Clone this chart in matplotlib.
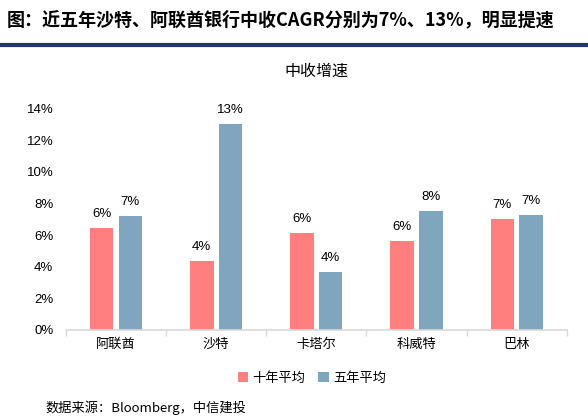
import matplotlib
matplotlib.use("Agg")
import matplotlib.pyplot as plt
import numpy as np
from matplotlib.ticker import FuncFormatter

plt.rcParams['font.family'] = ['Noto Sans CJK SC', 'DejaVu Sans']

categories = ['阿联酋', '沙特', '卡塔尔', '科威特', '巴林']
ten_year = [6.47, 4.37, 6.16, 5.63, 7.02]    # 十年平均 (%)
five_year = [7.20, 13.06, 3.67, 7.53, 7.28]  # 五年平均 (%)
series_names = ['十年平均', '五年平均']

red = '#FF7F7F'
blue = '#7FA5BF'

fig = plt.figure(figsize=(5.88, 4.17), dpi=100)
ax = fig.add_axes([0.112, 0.209, 0.852, 0.53])

x = np.arange(len(categories))
w = 0.235
off = 0.026
b1 = ax.bar(x - w / 2 - off, ten_year, w, color=red, label=series_names[0])
b2 = ax.bar(x + w / 2 + off, five_year, w, color=blue, label=series_names[1])

for bars in (b1, b2):
    for r in bars:
        v = r.get_height()
        ax.text(r.get_x() + r.get_width() / 2, v + 0.5, '%d%%' % round(v),
                ha='center', va='bottom', fontsize=9.5, family=['Liberation Sans', 'DejaVu Sans'])

ax.set_xlim(-0.5, len(categories) - 0.5)
ax.set_ylim(0, 14)
ax.set_yticks(np.arange(0, 15, 2))
ax.yaxis.set_major_formatter(FuncFormatter(lambda v, p: '%d%%' % v))
for t in ax.get_yticklabels():
    t.set_family(['Liberation Sans', 'DejaVu Sans'])
ax.tick_params(axis='y', length=0, labelsize=9.5, pad=9)
ax.set_xticks(x)
ax.set_xticklabels(categories, fontsize=9.5)
ax.tick_params(axis='x', length=0, pad=6)
ax.set_xticks(np.arange(-0.5, len(categories), 1), minor=True)
ax.tick_params(axis='x', which='minor', length=4, color='#D9D9D9', width=1)
for s in ['top', 'right', 'left']:
    ax.spines[s].set_visible(False)
ax.spines['bottom'].set_color('#D9D9D9')
ax.spines['bottom'].set_linewidth(1.2)

ax.set_title('中收增速', fontsize=11.5, pad=24)

fig.legend(handles=[b1, b2], loc='center', bbox_to_anchor=(0.53, 0.093), ncol=2,
           frameon=False, fontsize=9.5, handlelength=0.8, handleheight=0.8,
           handletextpad=0.3, columnspacing=1.0)

fig.text(0.012, 0.952, '图：近五年沙特、阿联酋银行中收CAGR分别为7%、13%，明显提速',
         fontsize=13, fontweight='bold', va='center', ha='left')
fig.add_artist(plt.Line2D([0, 1], [0.893, 0.893], color='#1F3864', linewidth=3,
                          transform=fig.transFigure))
fig.text(0.077, 0.022, '数据来源：Bloomberg，中信建投', fontsize=9.5, va='center', ha='left')

fig.savefig('out.png', dpi=100)
